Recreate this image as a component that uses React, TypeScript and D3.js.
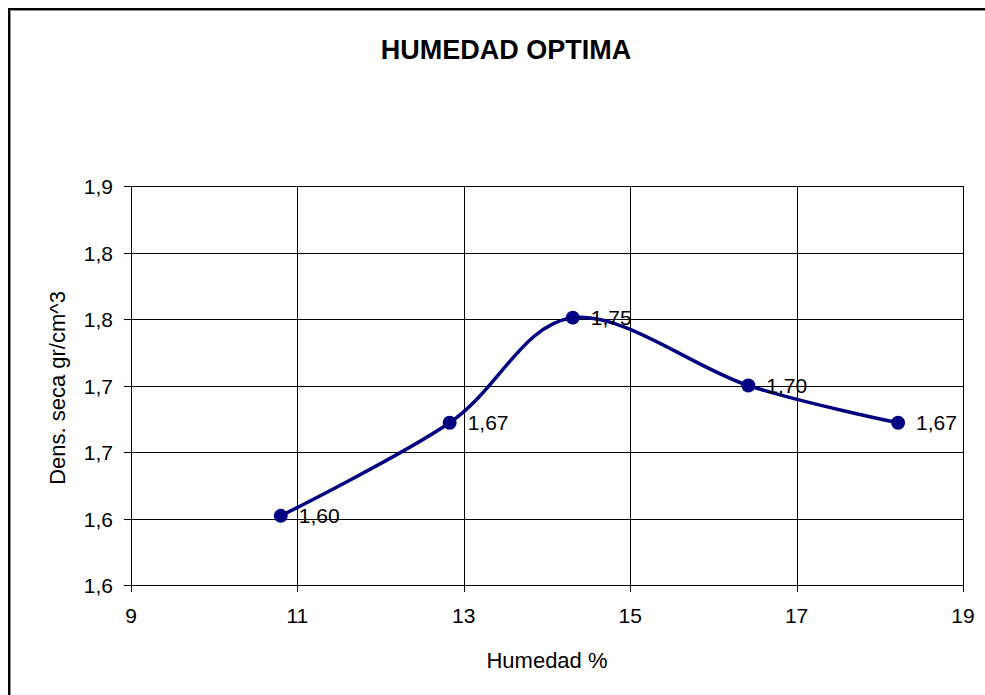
import React from "react";
import * as d3 from "d3";

const humedad = [10.8, 12.83, 14.31, 16.42, 18.22];
const densidad = [1.602, 1.672, 1.751, 1.7, 1.672];
const xTicks = [9, 11, 13, 15, 17, 19];
const yTicks = [1.55, 1.6, 1.65, 1.7, 1.75, 1.8, 1.85];
const yTickLabels = ["1,6", "1,6", "1,7", "1,7", "1,8", "1,8", "1,9"];
const title = "HUMEDAD OPTIMA";
const xTitle = "Humedad %";
const yTitle = "Dens. seca gr/cm^3";

const W = 985;
const H = 695;
const left = 131;
const right = 963;
const top = 186;
const bottom = 585;
const font = "'Liberation Sans', Arial, sans-serif";
const navy = "#000080";

export default function App() {
  const x = d3.scaleLinear().domain([9, 19]).range([left, right]);
  const y = d3.scaleLinear().domain([1.55, 1.85]).range([bottom, top]);
  const pts = humedad.map((h, i) => [h, densidad[i]] as [number, number]);
  const line = d3
    .line<[number, number]>()
    .x((d) => x(d[0]))
    .y((d) => y(d[1]))
    .curve(d3.curveCardinal.tension(0));
  const fmt = (v: number) => v.toFixed(2).replace(".", ",");

  return (
    <svg
      width={W}
      height={H}
      style={{ position: "absolute", left: 0, top: 0, background: "#fff", display: "block" }}
      fontFamily={font}
    >
      <rect x={0} y={0} width={W} height={H} fill="#fff" />
      <path d={`M9,${H} V9 H${W}`} fill="none" stroke="#000" strokeWidth={2} />
      <path d={`M10.5,${H} V10.5 H${W}`} fill="none" stroke="#888" strokeWidth={1} />
      <text x={506} y={59} textAnchor="middle" fontSize={27} fontWeight="bold" fill="#000">
        {title}
      </text>
      {yTicks.map((t, i) => (
        <g key={"y" + i}>
          <line
            x1={left - 7}
            x2={right}
            y1={Math.round(y(t)) + 0.5}
            y2={Math.round(y(t)) + 0.5}
            stroke="#000"
            strokeWidth={1}
          />
          <text
            x={113}
            y={Math.round(y(t)) + 7.5}
            textAnchor="end"
            fontSize={21}
            fill="#000"
          >
            {yTickLabels[i]}
          </text>
        </g>
      ))}
      {xTicks.map((t, i) => (
        <g key={"x" + i}>
          <line
            x1={Math.round(x(t)) + 0.5}
            x2={Math.round(x(t)) + 0.5}
            y1={top}
            y2={bottom + 7}
            stroke="#000"
            strokeWidth={1}
          />
          <text x={x(t)} y={623} textAnchor="middle" fontSize={21} fill="#000">
            {t}
          </text>
        </g>
      ))}
      <text x={(left + right) / 2} y={668} textAnchor="middle" fontSize={22} fill="#000">
        {xTitle}
      </text>
      <text
        transform={`translate(65, 388) rotate(-90)`}
        textAnchor="middle"
        fontSize={22}
        fill="#000"
      >
        {yTitle}
      </text>
      <path d={line(pts) || ""} fill="none" stroke={navy} strokeWidth={3.5} />
      {pts.map((p, i) => (
        <g key={"p" + i}>
          <circle cx={x(p[0])} cy={y(p[1])} r={7} fill={navy} />
          <text x={x(p[0]) + 18} y={y(p[1]) + 7.5} fontSize={21} fill="#000">
            {fmt(p[1])}
          </text>
        </g>
      ))}
    </svg>
  );
}
